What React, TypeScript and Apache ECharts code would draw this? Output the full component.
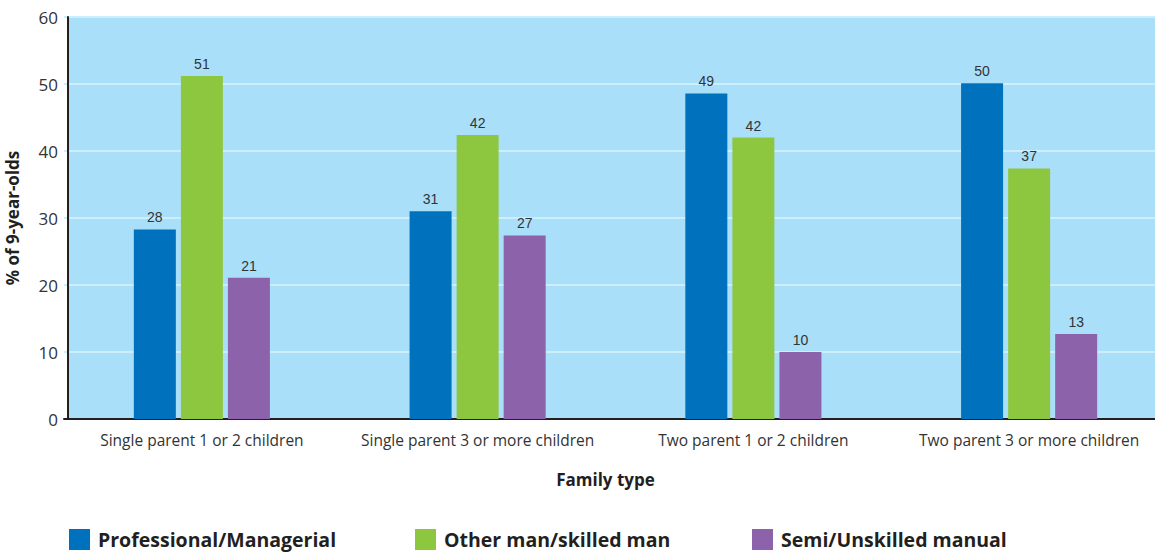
import React, { useEffect, useRef } from "react";
import * as echarts from "echarts";

const categories = [
  "Single parent 1 or 2 children",
  "Single parent 3 or more children",
  "Two parent 1 or 2 children",
  "Two parent 3 or more children",
];
const seriesNames = ["Professional/Managerial", "Other man/skilled man", "Semi/Unskilled manual"];
const professional = [28.3, 31.0, 48.6, 50.1];
const skilled = [51.2, 42.4, 42.0, 37.4];
const unskilled = [21.1, 27.4, 10.0, 12.7];
const colors = ["#0071bc", "#8dc63f", "#8c62aa"];
const yTicks = { min: 0, max: 60, interval: 10 };

const FONT = "'Open Sans', 'Noto Sans', sans-serif";

export default function App() {
  const ref = useRef<HTMLDivElement>(null);
  useEffect(() => {
    if (!ref.current) return;
    const chart = echarts.init(ref.current, null, { renderer: "svg" });
    const values = [professional, skilled, unskilled];
    chart.setOption({
      animation: false,
      graphic: [
        {
          type: "rect",
          z: -10,
          shape: { x: 68, y: 17, width: 1087, height: 402 },
          style: { fill: "#aadffa" },
          silent: true,
        },
      ],
      grid: {
        left: 64,
        top: 17,
        width: 1103,
        height: 402,
        containLabel: false,
        outerBoundsMode: "none",
      },
      legend: seriesNames.map((n, i) => ({
        data: [n],
        left: [69, 415, 752][i],
        top: 529,
        itemWidth: 21,
        itemHeight: 21,
        itemGap: 0,
        padding: 0,
        icon: "rect",
        textStyle: {
          fontFamily: FONT,
          fontSize: 19.5,
          lineHeight: 21,
          fontWeight: "bold",
          color: "#231f20",
          padding: [0, 0, 0, 3],
        },
        selectedMode: false,
      })),
      xAxis: {
        type: "category",
        data: categories,
        name: "Family type",
        nameLocation: "middle",
        nameGap: 52,
        nameTextStyle: { fontFamily: FONT, fontSize: 17, fontWeight: "bold", color: "#231f20", padding: [0, 20, 0, 0] },
        axisLine: { lineStyle: { color: "#231f20", width: 2 } },
        axisTick: { show: false },
        axisLabel: { fontFamily: FONT, fontSize: 15.5, color: "#333", margin: 13, interval: 0 },
      },
      yAxis: {
        type: "value",
        min: yTicks.min,
        max: yTicks.max,
        interval: yTicks.interval,
        offset: -4,
        name: "% of 9-year-olds",
        nameLocation: "middle",
        nameRotate: 90,
        nameGap: 47,
        nameTextStyle: { fontFamily: FONT, fontSize: 17, fontWeight: "bold", color: "#231f20" },
        axisLine: { show: true, lineStyle: { color: "#231f20", width: 2 } },
        axisTick: { show: false },
        axisLabel: { fontFamily: FONT, fontSize: 17, color: "#333", margin: 10 },
        splitLine: { lineStyle: { color: "#cdeefc", width: 2 } },
      },
      series: seriesNames.map((n, i) => ({
        name: n,
        type: "bar",
        data: values[i],
        barWidth: 42,
        barGap: "12%",
        itemStyle: { color: colors[i] },
        label: {
          show: true,
          position: "top",
          distance: 5,
          fontFamily: "'Liberation Sans', Arial, sans-serif",
          fontSize: 14,
          color: "#333",
          formatter: (p: any) => String(Math.round(p.value)),
        },
      })),
    });
    return () => chart.dispose();
  }, []);
  return (
    <div
      ref={ref}
      style={{ position: "absolute", left: 0, top: 0, width: 1155, height: 554, overflow: "hidden" }}
    />
  );
}
